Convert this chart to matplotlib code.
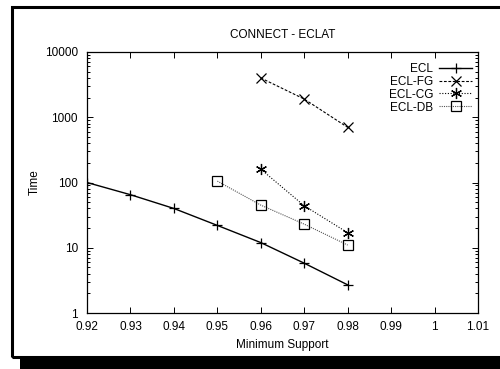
import matplotlib
matplotlib.use("Agg")
import matplotlib.pyplot as plt
from matplotlib.patches import Rectangle
from matplotlib.ticker import LogLocator, FixedLocator, NullFormatter

plt.rcParams['font.family'] = ['Liberation Sans', 'DejaVu Sans']

ecl_x = [0.92, 0.93, 0.94, 0.95, 0.96, 0.97, 0.98]
ecl_y = [100, 65, 40, 22, 12, 5.8, 2.7]
fg_x = [0.96, 0.97, 0.98]
fg_y = [4000, 1900, 700]
cg_x = [0.96, 0.97, 0.98]
cg_y = [160, 44, 17]
db_x = [0.95, 0.96, 0.97, 0.98]
db_y = [105, 45, 23, 11]
xticks = [0.92, 0.93, 0.94, 0.95, 0.96, 0.97, 0.98, 0.99, 1.0, 1.01]
xticklabels = ['0.92', '0.93', '0.94', '0.95', '0.96', '0.97', '0.98', '0.99', '1', '1.01']
yticks = [1, 10, 100, 1000, 10000]
yticklabels = ['1', '10', '100', '1000', '10000']

FS = 8.5
W, H = 500, 369
fig = plt.figure(figsize=(5, 3.69), dpi=100)
AX_W, AX_H = 478 - 87, 313 - 52
ax = fig.add_axes([87 / W, 1 - 313 / H, AX_W / W, AX_H / H])

ax.plot(ecl_x, ecl_y, color='black', lw=1.0, ls='-', marker='+', ms=7, mew=0.9, label='ECL')
ax.plot(fg_x, fg_y, color='black', lw=0.8, ls=(0, (2.5, 1.5)), marker='x', ms=7, mew=0.9, label='ECL-FG')
ax.plot(cg_x, cg_y, color='black', lw=0.8, ls=(0, (1, 1.5)), marker=(6, 2, 0), ms=8, mew=0.9, label='ECL-CG')
ax.plot(db_x, db_y, color='#555555', lw=0.8, ls=(0, (1, 1)), marker='s', ms=7, mew=0.9,
        mfc='none', mec='black', label='ECL-DB')

ax.set_yscale('log')
ax.set_xlim(0.92, 1.01)
ax.set_ylim(1, 10000)
ax.xaxis.set_major_locator(FixedLocator(xticks))
ax.set_xticklabels(xticklabels)
ax.yaxis.set_major_locator(FixedLocator(yticks))
ax.set_yticklabels(yticklabels)
ax.yaxis.set_minor_locator(LogLocator(base=10, subs=range(2, 10)))
ax.yaxis.set_minor_formatter(NullFormatter())
ax.tick_params(which='both', direction='in', top=True, right=True, labelsize=FS, width=0.7)
ax.tick_params(axis='y', pad=6.5)
ax.tick_params(axis='x', pad=6)
ax.tick_params(which='major', length=4)
ax.tick_params(which='minor', length=2)
for s in ax.spines.values():
    s.set_linewidth(0.9)

ax.set_title('CONNECT - ECLAT', fontsize=FS, pad=10)
ax.set_xlabel('Minimum Support', fontsize=FS, labelpad=4)
ax.set_ylabel('Time', fontsize=FS, labelpad=3)

leg = ax.legend(loc='upper right', bbox_to_anchor=(1 - 1 / AX_W, 1 - 6 / AX_H),
                markerfirst=False, frameon=False, fontsize=FS,
                handlelength=2.8, handletextpad=0.5, labelspacing=0.08,
                borderaxespad=0)

# outer frame with drop shadow
fig.patches.append(Rectangle((20 / W, 0), 1, 10 / H, transform=fig.transFigure,
                             facecolor='black', edgecolor='none', zorder=0))
fig.patches.append(Rectangle((11.5 / W, 1 - 356.5 / H), 1, (356.5 - 6.5) / H,
                             transform=fig.transFigure, facecolor='none',
                             edgecolor='black', lw=2.2, zorder=1))

fig.savefig('out.png', dpi=100)
